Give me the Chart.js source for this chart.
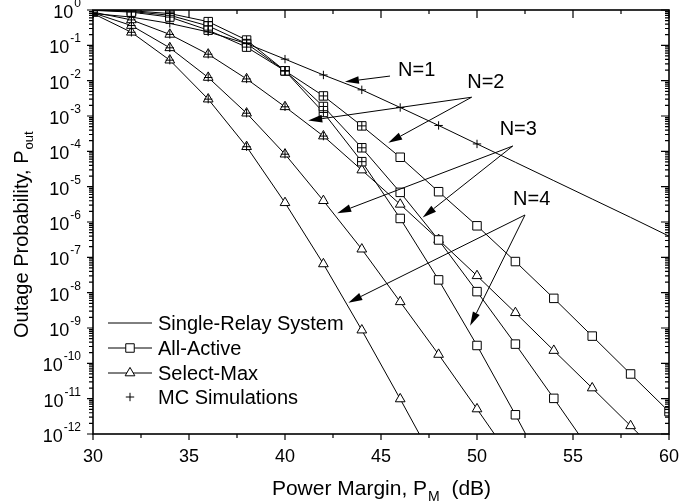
<!DOCTYPE html>
<html>
<head>
<meta charset="utf-8">
<script src="https://cdn.jsdelivr.net/npm/chart.js@4.4.0/dist/chart.umd.min.js"></script>
<style>
  html, body { margin: 0; padding: 0; background: #fff; }
  #wrap { width: 698px; height: 504px; }
</style>
</head>
<body>
<div id="wrap"><canvas id="outageChart" width="698" height="504"></canvas></div>
<script>
// power margin P_M (dB), one marker every 2 dB
const powerMargin = [30, 32, 34, 36, 38, 40, 42, 44, 46, 48, 50, 52, 54, 56, 58, 60];

// outage probability
const singleRelay = [0.794, 0.631, 0.417, 0.240, 0.112, 4.07e-2, 1.45e-2, 5.5e-3, 1.74e-3, 5.4e-4, 1.62e-4, 4.9e-5, 1.48e-5, 4.47e-6, 1.35e-6, 3.98e-7];
const allActive2 = [0.977, 0.871, 0.631, 0.269, 8.9e-2, 1.9e-2, 3.7e-3, 5.25e-4, 6.8e-5, 7.2e-6, 7.8e-7, 7.6e-8, 6.9e-9, 5.9e-10, 5.0e-11, 4.3e-12];
const allActive3 = [0.989, 0.912, 0.708, 0.355, 0.112, 1.9e-2, 1.86e-3, 1.26e-4, 6.9e-6, 3.1e-7, 1.07e-8, 3.5e-10, 1.02e-11, 2.8e-13];
const allActive4 = [0.995, 0.955, 0.794, 0.468, 0.141, 1.9e-2, 1.26e-3, 5.1e-5, 1.26e-6, 2.3e-8, 3.2e-10, 3.5e-12, 3.2e-14];
const selectMax2 = [0.871, 0.525, 0.204, 5.6e-2, 1.12e-2, 1.82e-3, 2.7e-4, 2.95e-5, 3.16e-6, 3.16e-7, 3.0e-8, 2.7e-9, 2.3e-10, 2.0e-11, 1.7e-12, 1.4e-13];
const selectMax3 = [0.832, 0.363, 8.5e-2, 1.23e-2, 1.2e-3, 8.3e-5, 4.0e-6, 1.7e-7, 5.5e-9, 1.78e-10, 5.1e-12, 1.4e-13];
const selectMax4 = [0.794, 0.234, 3.8e-2, 3.0e-3, 1.35e-4, 3.5e-6, 6.5e-8, 8.7e-10, 9.8e-12, 1.0e-13];

// Monte Carlo points (only the high-outage part was simulated)
const mcSingleRelay = singleRelay.slice(0, 11);
const mcAllActive2 = allActive2.slice(0, 8);
const mcAllActive3 = allActive3.slice(0, 8);
const mcAllActive4 = allActive4.slice(0, 8);
const mcSelectMax2 = selectMax2.slice(0, 7);
const mcSelectMax3 = selectMax3.slice(0, 6);
const mcSelectMax4 = selectMax4.slice(0, 5);

// axis ticks
const xTicks = [30, 35, 40, 45, 50, 55, 60];
const yDecades = [0, -1, -2, -3, -4, -5, -6, -7, -8, -9, -10, -11, -12];

const legendLabels = ['Single-Relay System', 'All-Active', 'Select-Max', 'MC Simulations'];

// N labels: text position and arrow tail/heads (data coords)
const nLabels = [
  { text: 'N=1', at: [46.86, 2.2e-2], tail: [45.47, 1.35e-2], heads: [[43.12, 9.3e-3]] },
  { text: 'N=2', at: [50.46, 1.0e-2], tail: [49.72, 3.4e-3], heads: [[41.21, 7.4e-4], [45.38, 1.74e-4]] },
  { text: 'N=3', at: [52.15, 4.7e-4], tail: [51.86, 1.41e-4], heads: [[42.72, 1.78e-6], [47.17, 1.35e-6]] },
  { text: 'N=4', at: [52.85, 4.9e-6], tail: [52.5, 1.58e-6], heads: [[43.3, 5.2e-9], [49.64, 1.15e-9]] }
];

const FONT = '"Liberation Sans", Arial, sans-serif';

function pts(ys) {
  return ys.map((v, i) => ({ x: powerMargin[i], y: v }));
}

function curve(ys, style) {
  return {
    data: pts(ys),
    borderColor: '#000',
    borderWidth: 1,
    backgroundColor: '#fff',
    pointStyle: style || false,
    pointRadius: style === 'triangle' ? 5.6 : (style ? 6 : 0),
    pointBorderWidth: 1,
    pointBackgroundColor: '#fff',
    pointBorderColor: '#000',
    showLine: true,
    tension: 0,
    order: 2
  };
}

function mc(ys) {
  return {
    data: pts(ys),
    showLine: false,
    pointStyle: 'cross',
    pointRadius: 4.2,
    pointBorderWidth: 1,
    pointBorderColor: '#000',
    order: 1
  };
}

function drawArrow(ctx, x1, y1, x2, y2) {
  const ang = Math.atan2(y2 - y1, x2 - x1);
  const len = 14, half = 3.8;
  const bx = x2 - len * Math.cos(ang), by = y2 - len * Math.sin(ang);
  ctx.beginPath();
  ctx.moveTo(x1, y1);
  ctx.lineTo(bx, by);
  ctx.stroke();
  ctx.beginPath();
  ctx.moveTo(x2, y2);
  ctx.lineTo(bx + half * Math.sin(ang), by - half * Math.cos(ang));
  ctx.lineTo(bx - half * Math.sin(ang), by + half * Math.cos(ang));
  ctx.closePath();
  ctx.fill();
}

const framePlugin = {
  id: 'framePlugin',
  afterDatasetsDraw(chart) {
    const { ctx, chartArea: a, scales: { x, y } } = chart;
    ctx.save();
    ctx.strokeStyle = '#000';
    ctx.fillStyle = '#000';

    // frame
    ctx.lineWidth = 1.6;
    ctx.strokeRect(a.left, a.top, a.right - a.left, a.bottom - a.top);

    // x ticks: bottom outward, top inward
    ctx.lineWidth = 1.2;
    ctx.beginPath();
    xTicks.forEach((v, i) => {
      const px = x.getPixelForValue(v);
      ctx.moveTo(px, a.bottom); ctx.lineTo(px, a.bottom + 6);
      ctx.moveTo(px, a.top); ctx.lineTo(px, a.top + 8);
      if (i < xTicks.length - 1) {
        const mx = x.getPixelForValue((v + xTicks[i + 1]) / 2);
        ctx.moveTo(mx, a.bottom); ctx.lineTo(mx, a.bottom + 4);
        ctx.moveTo(mx, a.top); ctx.lineTo(mx, a.top + 4);
      }
    });
    // y ticks: left outward, right inward
    yDecades.forEach(e => {
      const py = y.getPixelForValue(Math.pow(10, e));
      ctx.moveTo(a.left, py); ctx.lineTo(a.left - 6, py);
      ctx.moveTo(a.right, py); ctx.lineTo(a.right - 8, py);
      if (e < 0) {
        for (let m = 2; m <= 9; m++) {
          const my = y.getPixelForValue(m * Math.pow(10, e));
          ctx.moveTo(a.left, my); ctx.lineTo(a.left - 4, my);
          ctx.moveTo(a.right, my); ctx.lineTo(a.right - 4, my);
        }
      }
    });
    ctx.stroke();

    // x tick labels
    ctx.font = '18px ' + FONT;
    ctx.textAlign = 'center';
    ctx.textBaseline = 'alphabetic';
    xTicks.forEach(v => ctx.fillText(String(v), x.getPixelForValue(v), a.bottom + 28));

    // y tick labels 10^e
    const rightEdge = a.left - 12;
    yDecades.forEach(e => {
      const py = y.getPixelForValue(Math.pow(10, e));
      const sup = String(e);
      ctx.font = '12px ' + FONT;
      const ws = ctx.measureText(sup).width;
      ctx.textAlign = 'left';
      ctx.fillText(sup, rightEdge - ws, py - 3);
      ctx.font = '18px ' + FONT;
      const wb = ctx.measureText('10').width;
      ctx.fillText('10', rightEdge - ws - wb - 1, py + 8);
    });

    // x axis title
    const t1 = 'Power Margin, P', t2 = 'M', t3 = '  (dB)';
    ctx.font = '21px ' + FONT;
    const w1 = ctx.measureText(t1).width, w3 = ctx.measureText(t3).width;
    ctx.font = '14px ' + FONT;
    const w2 = ctx.measureText(t2).width;
    let sx = (a.left + a.right) / 2 - (w1 + w2 + w3) / 2;
    const by = a.bottom + 61;
    ctx.textAlign = 'left';
    ctx.font = '21px ' + FONT;
    ctx.fillText(t1, sx, by);
    ctx.font = '14px ' + FONT;
    ctx.fillText(t2, sx + w1 + 1, by + 6);
    ctx.font = '21px ' + FONT;
    ctx.fillText(t3, sx + w1 + w2 + 1, by);

    // y axis title (rotated)
    ctx.save();
    ctx.translate(28, 338);
    ctx.rotate(-Math.PI / 2);
    ctx.font = '20px ' + FONT;
    const yt = 'Outage Probability, P';
    const wy = ctx.measureText(yt).width;
    ctx.fillText(yt, 0, 0);
    ctx.font = '13px ' + FONT;
    ctx.fillText('out', wy + 1, 5);
    ctx.restore();

    // legend
    const lx = a.left + 15, rowY = [a.top + 313, a.top + 338, a.top + 363, a.top + 387];
    const styles = [false, 'rect', 'triangle', 'cross'];
    ctx.font = '20px ' + FONT;
    legendLabels.forEach((lab, i) => {
      const cy = rowY[i];
      ctx.lineWidth = 1;
      if (i < 3) {
        ctx.beginPath();
        ctx.moveTo(lx, cy); ctx.lineTo(lx + 44, cy);
        ctx.stroke();
      }
      if (styles[i]) {
        const r = styles[i] === 'rect' ? 6 : styles[i] === 'triangle' ? 5.6 : 4.2;
        ctx.fillStyle = '#fff';
        Chart.helpers.drawPoint(ctx, { pointStyle: styles[i], radius: r, borderWidth: 1 }, lx + 22, cy);
        ctx.fillStyle = '#000';
      }
      ctx.fillText(lab, lx + 50, cy + 7);
    });

    // N annotations with arrows
    ctx.font = '20px ' + FONT;
    ctx.textAlign = 'center';
    ctx.lineWidth = 1;
    nLabels.forEach(n => {
      ctx.fillText(n.text, x.getPixelForValue(n.at[0]), y.getPixelForValue(n.at[1]) + 7);
      const tx = x.getPixelForValue(n.tail[0]), ty = y.getPixelForValue(n.tail[1]);
      n.heads.forEach(h => drawArrow(ctx, tx, ty, x.getPixelForValue(h[0]), y.getPixelForValue(h[1])));
    });

    ctx.restore();
  }
};

new Chart(document.getElementById('outageChart'), {
  type: 'line',
  data: {
    datasets: [
      curve(singleRelay),
      curve(allActive2, 'rect'),
      curve(allActive3, 'rect'),
      curve(allActive4, 'rect'),
      curve(selectMax2, 'triangle'),
      curve(selectMax3, 'triangle'),
      curve(selectMax4, 'triangle'),
      mc(mcSingleRelay),
      mc(mcAllActive2),
      mc(mcAllActive3),
      mc(mcAllActive4),
      mc(mcSelectMax2),
      mc(mcSelectMax3),
      mc(mcSelectMax4)
    ]
  },
  options: {
    responsive: false,
    animation: false,
    layout: { padding: { left: 93, right: 29, top: 10, bottom: 70 } },
    scales: {
      x: { type: 'linear', min: 30, max: 60, display: false },
      y: { type: 'logarithmic', min: 1e-12, max: 1, display: false }
    },
    plugins: {
      legend: { display: false },
      tooltip: { enabled: false }
    }
  },
  plugins: [framePlugin]
});
</script>
</body>
</html>
